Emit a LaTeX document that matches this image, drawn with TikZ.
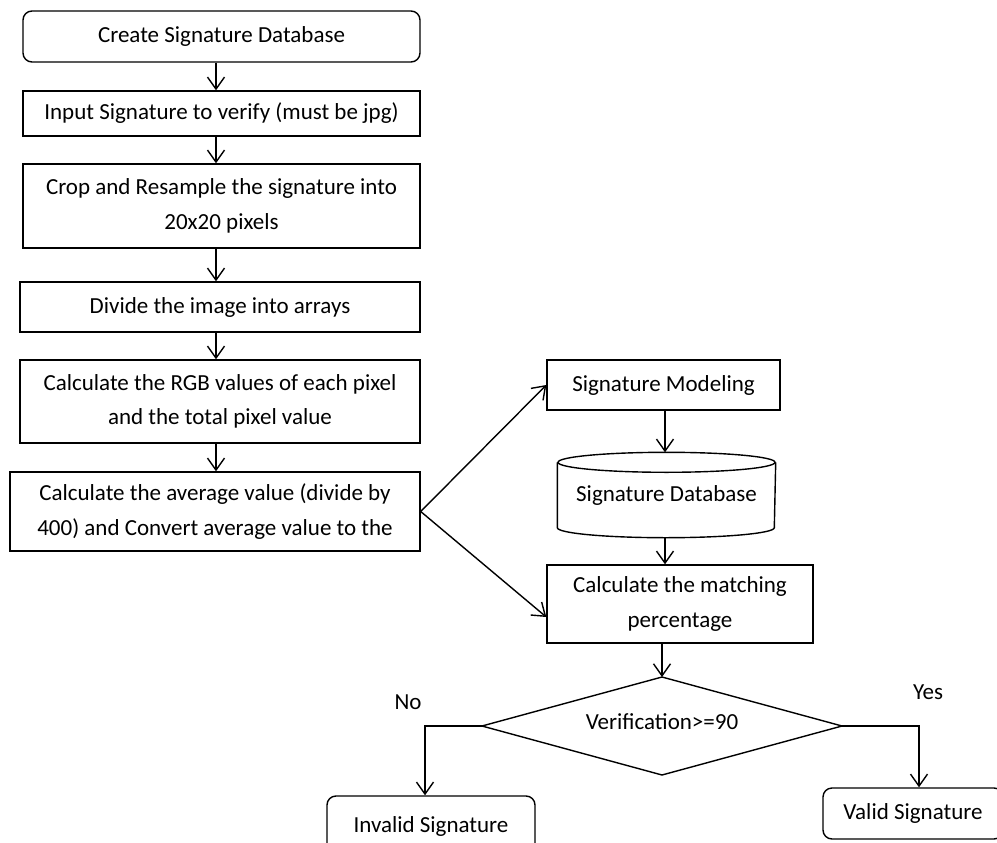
\documentclass[tikz,border=0pt]{standalone}
\usepackage{fontspec}
\setmainfont{Carlito}
\usetikzlibrary{arrows.meta,shapes.geometric,calc}
\begin{document}
\begin{tikzpicture}[x=1bp,y=-1bp,
  font=\fontsize{23bp}{34.5bp}\selectfont,
  line width=1.4bp,
  box/.style={draw, rectangle, inner sep=0pt, align=center},
  rbox/.style={box, rounded corners=9bp},
  arr/.style={-{Straight Barb[length=12bp,width=17bp]}},
  ]
\useasboundingbox (0,0) rectangle (997,843);
% left column
\node[rbox, minimum width=397bp, minimum height=51bp] (create) at (221.5,36.5) {Create Signature Database};
\node[box, minimum width=397bp, minimum height=45bp] (input) at (221.5,113.5) {Input Signature to verify (must be jpg)};
\node[box, minimum width=397bp, minimum height=84bp] (crop) at (221.5,206) {Crop and Resample the signature into\\20x20 pixels};
\node[box, minimum width=400bp, minimum height=50bp] (divide) at (220,307) {Divide the image into arrays};
\node[box, minimum width=400bp, minimum height=83bp] (rgb) at (220,401.5) {Calculate the RGB values of each pixel\\and the total pixel value};
\node[box, minimum width=410bp, minimum height=79bp] (avg) at (215,511.5) {Calculate the average value (divide by\\400) and Convert average value to the};
% right column
\node[box, minimum width=233bp, minimum height=50bp] (model) at (663.5,385) {Signature Modeling};
\node[minimum width=217bp, minimum height=84bp, inner sep=0pt] (db) at (666.5,495) {Signature Database};
\draw ($(db.north west)+(0,10)$) -- ($(db.south west)+(0,-10)$) arc[start angle=180, end angle=360, x radius=108.5bp, y radius=10bp] -- ($(db.north east)+(0,10)$);
\draw ($(db.north)+(0,10)$) ellipse [x radius=108.5bp, y radius=10bp];
\node[box, minimum width=266bp, minimum height=78bp] (match) at (680,604) {Calculate the matching\\percentage};
% decision
\node[inner sep=0pt] (dec) at (662,722) {Verification>=90};
\coordinate (dtop) at (662,677);
\coordinate (dleft) at (482,726);
\coordinate (dright) at (842,726);
\coordinate (dbot) at (662,775);
\draw (dtop) -- (dright) -- (dbot) -- (dleft) -- cycle;
\node[rbox, minimum width=208bp, minimum height=60bp] (invalid) at (431,826) {Invalid Signature};
\node[rbox, minimum width=180bp, minimum height=51bp] (valid) at (913,813.5) {Valid Signature};
\node (no) at (408,702) {No};
\node (yes) at (928,692) {Yes};
% connectors
\coordinate (ax) at (216,0);
\coordinate (bx) at (665,0);
\coordinate (nox) at (425,0);
\coordinate (yx) at (919,0);
\draw[arr] (create.south -| ax) -- (input.north -| ax);
\draw[arr] (input.south -| ax) -- (crop.north -| ax);
\draw[arr] (crop.south -| ax) -- (divide.north -| ax);
\draw[arr] (divide.south -| ax) -- (rgb.north -| ax);
\draw[arr] (rgb.south -| ax) -- (avg.north -| ax);
\draw[arr] (avg.east) -- (model.west);
\draw[arr] (avg.east) -- ($(match.west)+(0,13)$);
\draw[arr] (model.south -| bx) -- (db.north -| bx);
\draw[arr] (db.south -| bx) -- (match.north -| bx);
\draw[arr] (match.south -| dtop) -- (dtop);
\draw[arr] (dleft) -| (invalid.north -| nox);
\draw[arr] (dright) -| (valid.north -| yx);
\end{tikzpicture}
\end{document}
